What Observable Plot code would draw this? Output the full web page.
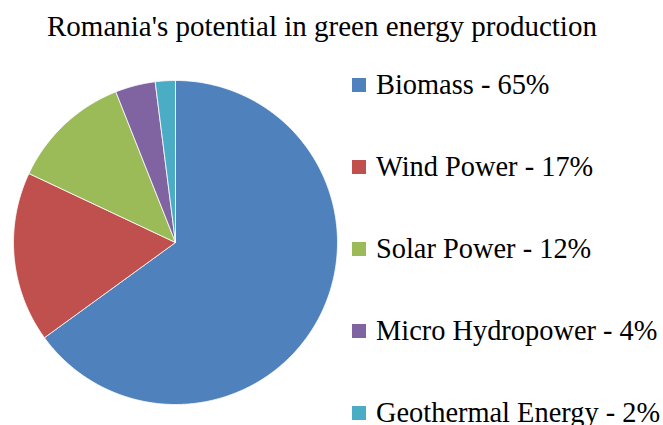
<!DOCTYPE html>
<html>
<head>
<meta charset="utf-8">
<script src="https://cdn.jsdelivr.net/npm/d3@7"></script>
<script src="https://cdn.jsdelivr.net/npm/@observablehq/plot@0.6"></script>
<style>
  html, body { margin: 0; padding: 0; background: #fff; }
  #wrap { position: relative; width: 663px; height: 425px; overflow: hidden; font-family: "Liberation Serif", "Times New Roman", serif; color: #000; }
  #title { position: absolute; left: 0; top: 9px; width: 663px; font-size: 29px; line-height: 34px; white-space: nowrap; }
  #title span { position: absolute; left: 47px; }
  #chart { position: absolute; left: 0; top: 55px; }
  #legend { position: absolute; left: 352px; top: 71px; }
  .item { position: relative; height: 82px; white-space: nowrap; font-size: 28.4px; line-height: 28px; }
  .sw { position: absolute; left: 0; top: 7px; width: 14px; height: 14px; }
  .lab { position: absolute; left: 24px; top: 0; }
</style>
</head>
<body>
<div id="wrap">
  <div id="title"><span>Romania's potential in green energy production</span></div>
  <div id="chart"></div>
  <div id="legend"></div>
</div>
<script>
const categories = ["Biomass", "Wind Power", "Solar Power", "Micro Hydropower", "Geothermal Energy"];
const values = [65, 17, 12, 4, 2];
const colors = ["#4F81BD", "#C0504D", "#9BBB59", "#8064A2", "#4BACC6"];

// Pie geometry computed with d3.pie (clockwise from 12 o'clock)
const arcs = d3.pie().sort(null).value(d => d.value)(categories.map((name, i) => ({name, value: values[i]})));
const pts = [];
for (const a of arcs) {
  const name = a.data.name;
  pts.push({name, x: 0, y: 0});
  const n = Math.max(2, Math.ceil((a.endAngle - a.startAngle) / 0.01));
  for (let k = 0; k <= n; k++) {
    const t = a.startAngle + (a.endAngle - a.startAngle) * k / n;
    pts.push({name, x: Math.sin(t), y: Math.cos(t)});
  }
  pts.push({name, x: 0, y: 0});
}

const cx = 175, cy = 242 - 55, r = 162;
const plot = Plot.plot({
  width: 663,
  height: 370,
  margin: 0,
  x: {domain: [-1, 1], range: [cx - r, cx + r], axis: null},
  y: {domain: [-1, 1], range: [cy + r, cy - r], axis: null},
  color: {domain: categories, range: colors},
  marks: [
    Plot.line(pts, {x: "x", y: "y", z: "name", fill: "name", stroke: "white", strokeWidth: 0.8, strokeLinejoin: "round", curve: "linear"})
  ]
});
document.getElementById("chart").appendChild(plot);

const color = plot.scale("color");
const legend = document.getElementById("legend");
categories.forEach((c, i) => {
  const item = document.createElement("div");
  item.className = "item";
  const sw = document.createElement("span");
  sw.className = "sw";
  sw.style.background = colors[color.domain.indexOf(c)];
  const lab = document.createElement("span");
  lab.className = "lab";
  lab.textContent = `${c} - ${values[i]}%`;
  item.appendChild(sw);
  item.appendChild(lab);
  legend.appendChild(item);
});
</script>
</body>
</html>
